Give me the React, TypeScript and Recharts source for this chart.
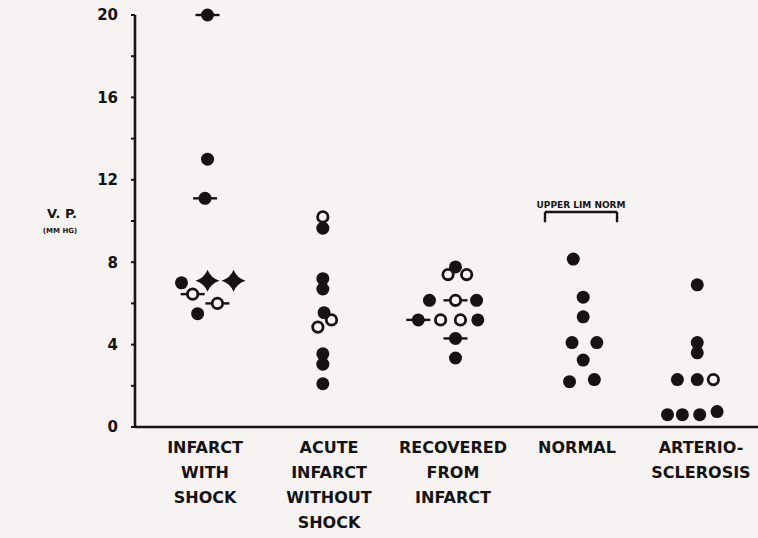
import React from 'react';
import { ScatterChart, Scatter, XAxis, YAxis, ReferenceLine } from 'recharts';

// Category labels (multi-line)
const categoryLabels: string[][] = [
  ['INFARCT', 'WITH', 'SHOCK'],
  ['ACUTE', 'INFARCT', 'WITHOUT', 'SHOCK'],
  ['RECOVERED', 'FROM', 'INFARCT'],
  ['NORMAL'],
  ['ARTERIO-', 'SCLEROSIS'],
];
const categoryPositions = [0, 1, 2, 3, 4];

const yTicks = [0, 2, 4, 6, 8, 10, 12, 14, 16, 18, 20];

// Venous pressure (mm Hg) per group, with horizontal jitter (fraction of category spacing) and marker kind
const infarctShockValues = [20, 13, 11.1, 7.0, 7.1, 7.1, 6.45, 6.0, 5.5];
const infarctShockJitter = [0.02, 0.02, 0.0, -0.19, 0.02, 0.23, -0.1, 0.1, -0.06];
const infarctShockKinds = ['filledBar', 'filled', 'filledBar', 'filled', 'star', 'star', 'openBar', 'openBar', 'filled'];

const acuteValues = [10.2, 9.65, 7.2, 6.7, 5.55, 5.2, 4.85, 3.55, 3.05, 2.1];
const acuteJitter = [-0.05, -0.05, -0.05, -0.05, -0.04, 0.02, -0.09, -0.05, -0.05, -0.05];
const acuteKinds = ['open', 'filled', 'filled', 'filled', 'filled', 'open', 'open', 'filled', 'filled', 'filled'];

const recoveredValues = [7.77, 7.4, 7.4, 6.15, 6.15, 6.15, 5.2, 5.2, 5.2, 5.2, 4.3, 3.35];
const recoveredJitter = [0.02, -0.04, 0.11, -0.19, 0.02, 0.19, -0.28, -0.1, 0.06, 0.2, 0.02, 0.02];
const recoveredKinds = ['filled', 'open', 'open', 'filled', 'openBar', 'filled', 'filledBar', 'open', 'open', 'filled', 'filledBar', 'filled'];

const normalValues = [8.15, 6.3, 5.35, 4.1, 4.1, 3.25, 2.2, 2.3];
const normalJitter = [-0.03, 0.05, 0.05, -0.04, 0.16, 0.05, -0.06, 0.14];
const normalKinds = ['filled', 'filled', 'filled', 'filled', 'filled', 'filled', 'filled', 'filled'];

const arterioValues = [6.9, 4.1, 3.6, 2.3, 2.3, 2.3, 0.6, 0.6, 0.6, 0.75];
const arterioJitter = [-0.03, -0.03, -0.03, -0.19, -0.03, 0.1, -0.27, -0.15, -0.01, 0.13];
const arterioKinds = ['filled', 'filled', 'filled', 'filled', 'filled', 'open', 'filled', 'filled', 'filled', 'filled'];

const upperLimitNormal = 10.44;
const upperLimitLabel = 'UPPER LIM NORM';
const bracketFrom = 2.742;
const bracketTo = 3.323;

const INK = '#161314';
const BG = '#f7f3f2';
const FONT = '"DejaVu Sans", sans-serif';

function build(idx: number, values: number[], jitter: number[], kinds: string[]) {
  return values.map((v, i) => ({ x: categoryPositions[idx] + jitter[i], y: v, kind: kinds[i] }));
}

const groups = [
  build(0, infarctShockValues, infarctShockJitter, infarctShockKinds),
  build(1, acuteValues, acuteJitter, acuteKinds),
  build(2, recoveredValues, recoveredJitter, recoveredKinds),
  build(3, normalValues, normalJitter, normalKinds),
  build(4, arterioValues, arterioJitter, arterioKinds),
];

const Marker = (props: any) => {
  const { cx, cy, payload } = props;
  if (cx == null || cy == null) return <g />;
  const kind = payload.kind;
  if (kind === 'filled') return <circle cx={cx} cy={cy} r={6.5} fill={INK} />;
  if (kind === 'open')
    return <circle cx={cx} cy={cy} r={5.2} fill="none" stroke={INK} strokeWidth={2.8} />;
  if (kind === 'filledBar')
    return (
      <g>
        <line x1={cx - 12} y1={cy} x2={cx + 12} y2={cy} stroke={INK} strokeWidth={2.4} />
        <circle cx={cx} cy={cy} r={6.5} fill={INK} />
      </g>
    );
  if (kind === 'openBar')
    return (
      <g>
        <line x1={cx - 12} y1={cy} x2={cx + 12} y2={cy} stroke={INK} strokeWidth={2.4} />
        <circle cx={cx} cy={cy} r={5.2} fill={BG} stroke={INK} strokeWidth={2.8} />
      </g>
    );
  if (kind === 'star') {
    const d = `M${cx - 12},${cy} Q${cx - 3},${cy - 3} ${cx},${cy - 11} Q${cx + 3},${cy - 3} ${cx + 12},${cy} Q${cx + 3},${cy + 3} ${cx},${cy + 11} Q${cx - 3},${cy + 3} ${cx - 12},${cy} Z`;
    return (
      <g>
        <path d={d} fill={INK} />
        <circle cx={cx} cy={cy} r={5} fill={INK} />
      </g>
    );
  }
  return <circle cx={cx} cy={cy} r={6} fill={INK} />;
};

const CategoryTick = (props: any) => {
  const { x, y, payload } = props;
  const lines = categoryLabels[payload.value] || [];
  return (
    <text x={x} y={y} textAnchor="middle" fill={INK} fontFamily={FONT} fontWeight="bold" fontSize={16}>
      {lines.map((l, i) => (
        <tspan key={i} x={x} dy={i === 0 ? 26 : 25}>
          {l}
        </tspan>
      ))}
    </text>
  );
};

const YLabel = () => (
  <g>
    <text x={62} y={218} textAnchor="middle" fill={INK} fontFamily={FONT} fontWeight="bold" fontSize={13}>
      V. P.
    </text>
    <text x={60} y={233} textAnchor="middle" fill={INK} fontFamily={FONT} fontWeight="bold" fontSize={7}>
      (MM HG)
    </text>
  </g>
);

export default function App() {
  return (
    <div style={{ position: 'absolute', left: 0, top: 0, width: 758, height: 538, background: BG }}>
      <ScatterChart width={758} height={538} margin={{ top: 15, right: 0, bottom: 0, left: 0 }}>
        <XAxis
          type="number"
          dataKey="x"
          domain={[-0.565, 4.46]}
          allowDataOverflow
          ticks={categoryPositions}
          interval={0}
          height={111}
          tick={<CategoryTick />}
          tickLine={false}
          tickSize={0}
          tickMargin={0}
          axisLine={{ stroke: INK, strokeWidth: 2.6 }}
        />
        <YAxis
          type="number"
          dataKey="y"
          domain={[0, 20]}
          ticks={yTicks}
          interval={0}
          width={135}
          tickSize={4}
          tickMargin={13}
          tickFormatter={(v: number) => (v % 4 === 0 ? String(v) : '')}
          tick={{ fill: INK, fontSize: 15, fontWeight: 'bold', fontFamily: FONT }}
          tickLine={{ stroke: INK, strokeWidth: 2 }}
          axisLine={{ stroke: INK, strokeWidth: 2.6 }}
          label={{ content: () => <YLabel /> }}
        />
        <ReferenceLine
          segment={[
            { x: bracketFrom, y: upperLimitNormal },
            { x: bracketTo, y: upperLimitNormal },
          ]}
          stroke={INK}
          strokeWidth={2.4}
          ifOverflow="visible"
          label={{
            value: upperLimitLabel,
            position: 'top',
            fill: INK,
            fontSize: 9,
            fontWeight: 'bold',
            fontFamily: FONT,
            offset: 4,
          }}
        />
        <ReferenceLine
          segment={[
            { x: bracketFrom, y: upperLimitNormal },
            { x: bracketFrom, y: upperLimitNormal - 0.5 },
          ]}
          stroke={INK}
          strokeWidth={2.4}
          ifOverflow="visible"
        />
        <ReferenceLine
          segment={[
            { x: bracketTo, y: upperLimitNormal },
            { x: bracketTo, y: upperLimitNormal - 0.5 },
          ]}
          stroke={INK}
          strokeWidth={2.4}
          ifOverflow="visible"
        />
        {groups.map((g, i) => (
          <Scatter key={i} data={g} shape={<Marker />} isAnimationActive={false} />
        ))}
      </ScatterChart>
    </div>
  );
}
